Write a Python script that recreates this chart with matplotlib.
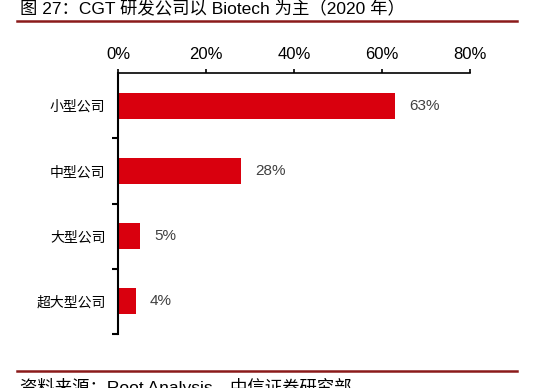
import matplotlib.pyplot as plt
from matplotlib.lines import Line2D
from matplotlib.ticker import FixedLocator, PercentFormatter

plt.rcParams['font.family'] = ['Liberation Sans', 'Noto Sans CJK SC', 'DejaVu Sans']

categories = ['小型公司', '中型公司', '大型公司', '超大型公司']
shares = [63, 28, 5, 4]
x_ticks = [0, 20, 40, 60, 80]

title = '图 27：CGT 研发公司以 Biotech 为主（2020 年）'
source = '资料来源：Root Analysis，中信证券研究部'

bar_color = '#D9000E'
rule_color = '#8B1A1A'

W, H = 545, 388
fig = plt.figure(figsize=(W / 100, H / 100), dpi=100)
ax = fig.add_axes([118 / W, 1 - 334 / H, (470 - 118) / W, (334 - 73) / H])

y = list(range(len(categories)))
ax.barh(y, shares, height=0.4, color=bar_color)
for yi, v in zip(y, shares):
    ax.annotate(f'{v}%', (v, yi), xytext=(10, 0), textcoords='offset points',
                va='center', ha='left', fontsize=11, color='#404040')

ax.set_xlim(0, 80)
ax.set_ylim(len(categories) - 0.5, -0.5)
ax.xaxis.tick_top()
ax.set_xticks(x_ticks)
ax.xaxis.set_major_formatter(PercentFormatter(decimals=0))
ax.tick_params(axis='x', length=3, width=1.2, labelsize=12, pad=5, color='black')

ax.set_yticks(y)
ax.set_yticklabels(categories)
ax.tick_params(axis='y', which='major', length=0, labelsize=10, pad=9)
ax.yaxis.set_minor_locator(FixedLocator([0.5, 1.5, 2.5, 3.5]))
ax.tick_params(axis='y', which='minor', length=4, width=1.5, color='black')

for s in ['right', 'bottom']:
    ax.spines[s].set_visible(False)
ax.spines['left'].set_linewidth(1.5)
ax.spines['top'].set_linewidth(1.2)

# title and source with red rules
fig.text(20 / W, 1 - 8 / H, title, fontsize=12.5, va='center', ha='left')
fig.add_artist(Line2D([17 / W, 517 / W], [1 - 20.5 / H] * 2, color=rule_color, lw=1.8))
fig.add_artist(Line2D([17 / W, 517 / W], [1 - 371 / H] * 2, color=rule_color, lw=1.8))
fig.text(20 / W, 1 - 378 / H, source, fontsize=12.5, va='top', ha='left')

fig.savefig('out.png', dpi=100)
